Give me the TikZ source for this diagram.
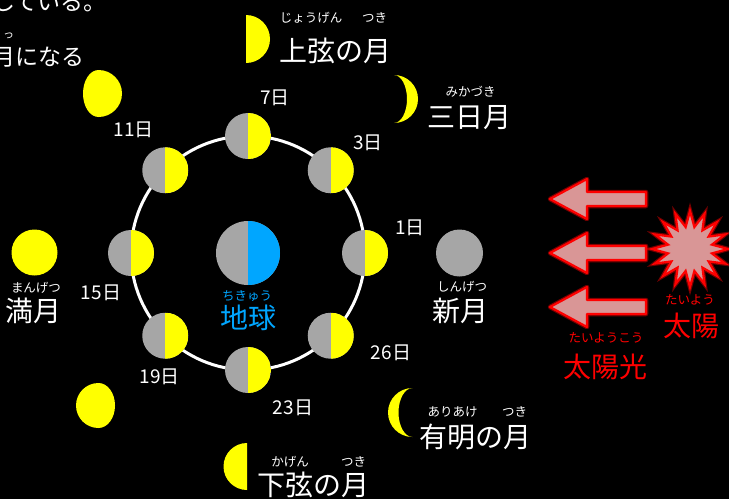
\documentclass[tikz,border=0pt]{standalone}
\usepackage{fontspec}
\usetikzlibrary{shapes.geometric}
\newfontfamily\jp{Noto Sans CJK JP}
\definecolor{moonyellow}{RGB}{255,255,0}
\definecolor{moongray}{RGB}{166,166,166}
\definecolor{earthblue}{RGB}{0,166,255}
\definecolor{sunpink}{RGB}{217,150,150}
\definecolor{sunred}{RGB}{255,0,0}
\tikzset{
  bigtext/.style={font=\jp\fontsize{28}{28}\selectfont, text=white, inner sep=0pt, anchor=base},
  rubytext/.style={font=\jp\fontsize{12.5}{12.5}\selectfont, text=white, inner sep=0pt, anchor=base},
  daytext/.style={font=\jp\fontsize{19}{19}\selectfont, text=white, inner sep=0pt, anchor=base},
  headtext/.style={font=\jp\fontsize{23}{23}\selectfont, text=white, inner sep=0pt, anchor=base east},
  halfmoon/.style={circle, minimum size=46pt, inner sep=0pt, outer sep=0pt, fill=moongray,
    path picture={\fill[moonyellow] (path picture bounding box.north) rectangle (path picture bounding box.south east);}},
  earthdisk/.style={circle, minimum size=64pt, inner sep=0pt, outer sep=0pt, fill=moongray,
    path picture={\fill[earthblue] (path picture bounding box.north) rectangle (path picture bounding box.south east);}},
  beamglow/.style={draw=sunred, draw opacity=0.45, line width=4.5pt, line join=round},
  beamedge/.style={draw=sunred, fill=sunpink, line width=2.2pt, line join=round},
  sunstar/.style={star, star points=16, star point ratio=1.7, minimum size=76pt, inner sep=0pt},
}
\begin{document}
\begin{tikzpicture}[x=1pt, y=-1pt]
% background and page frame
\fill[black] (0,0) rectangle (729,499);
\useasboundingbox (0,0) rectangle (729,499);

% heading lines
\node[headtext] (head1) at (107,10) {している。};
\node[headtext] (head2) at (85,65) {月になる};
\node[rubytext, font=\jp\fontsize{11}{11}\selectfont] (head2r) at (8.5,38) {っ};

% orbit of the moon around the earth
\node[circle, draw=white, line width=3pt, minimum size=234pt, inner sep=0pt, outer sep=0pt] (orbit) at (248,253) {};

% earth
\node[earthdisk] (earth) at (orbit.center) {};
\node[rubytext, text=earthblue] (earthr) at (247,300.5) {ちきゅう};
\node[bigtext, text=earthblue] (earthl) at (248.5,328) {地球};

% moon on the orbit, lit from the right
\node[halfmoon] (d1)  at (orbit.0)   {};
\node[halfmoon] (d3)  at (orbit.45)  {};
\node[halfmoon] (d7)  at (orbit.90)  {};
\node[halfmoon] (d11) at (orbit.135) {};
\node[halfmoon] (d15) at (orbit.180) {};
\node[halfmoon] (d19) at (orbit.225) {};
\node[halfmoon] (d23) at (orbit.270) {};
\node[halfmoon] (d26) at (orbit.315) {};

% day labels
\node[daytext] (t1)  at (410,234.5) {1日};
\node[daytext] (t3)  at (368,149.5) {3日};
\node[daytext] (t7)  at (275,104.5) {7日};
\node[daytext] (t11) at (133.5,136.5) {11日};
\node[daytext] (t15) at (101,299.5) {15日};
\node[daytext] (t19) at (159.5,383.5) {19日};
\node[daytext] (t23) at (293,414.5) {23日};
\node[daytext] (t26) at (391,359.5) {26日};

% new moon
\fill[moongray] (459.5,253) circle[radius=23.5];
\node[rubytext] (newr) at (462,291.5) {しんげつ};
\node[bigtext] (newl) at (460,321) {新月};

% crescent (3 days)
\fill[moonyellow] (394,75) arc[start angle=-90, end angle=90, radius=24]
  arc[start angle=90, end angle=-90, x radius=13, y radius=24] -- cycle;
\node[rubytext] (cresr) at (470.5,96.5) {みかづき};
\node[bigtext] (cresl) at (469,127) {三日月};

% first quarter
\fill[moonyellow] (246,15) arc[start angle=-90, end angle=90, radius=24] -- cycle;
\node[rubytext] (fqr1) at (311,22) {じょうげん};
\node[rubytext] (fqr2) at (374.5,22) {つき};
\node[bigtext] (fql) at (335,61) {上弦の月};

% waxing gibbous
\fill[moonyellow] (98.5,70) arc[start angle=-90, end angle=90, radius=23.5]
  arc[start angle=90, end angle=270, x radius=15.5, y radius=23.5] -- cycle;

% full moon
\fill[moonyellow] (34.5,252.5) circle[radius=23];
\node[rubytext] (fullr) at (36,292.5) {まんげつ};
\node[bigtext] (fulll) at (33.5,321) {満月};

% waning gibbous
\fill[moonyellow] (98.5,383) arc[start angle=-90, end angle=-270, radius=22.5]
  arc[start angle=90, end angle=-90, x radius=16.5, y radius=22.5] -- cycle;

% last quarter
\fill[moonyellow] (247,443) arc[start angle=-90, end angle=-270, radius=23.5] -- cycle;
\node[rubytext] (lqr1) at (290,466.5) {かげん};
\node[rubytext] (lqr2) at (353.5,466.5) {つき};
\node[bigtext] (lql) at (313.5,495.5) {下弦の月};

% waning crescent
\fill[moonyellow] (412.5,388) arc[start angle=-90, end angle=-270, radius=24.5]
  arc[start angle=90, end angle=270, x radius=14, y radius=24.5] -- cycle;
\node[rubytext] (wcr1) at (452.5,416.5) {ありあけ};
\node[rubytext] (wcr2) at (514.5,416.5) {つき};
\node[bigtext] (wcl) at (475,447) {有明の月};

% sunlight arrows
\foreach \yy in {199,253,307} {
  \path[beamglow] (550,\yy) -- (587,{\yy-20}) -- (587,{\yy-7}) -- (646,{\yy-7})
    -- (646,{\yy+7}) -- (587,{\yy+7}) -- (587,{\yy+20}) -- cycle;
  \path[beamedge] (550,\yy) -- (587,{\yy-20}) -- (587,{\yy-7}) -- (646,{\yy-7})
    -- (646,{\yy+7}) -- (587,{\yy+7}) -- (587,{\yy+20}) -- cycle;
}
\node[rubytext, text=sunred] (beamr) at (606,342.5) {たいようこう};
\node[bigtext, text=sunred] (beaml) at (605,377) {太陽光};

% sun
\node[sunstar, draw=sunred, draw opacity=0.45, line width=4.5pt] (sunglow) at (690,249) {};
\node[sunstar, draw=sunred, fill=sunpink, line width=2.2pt] (sun) at (690,249) {};
\node[rubytext, text=sunred] (sunr) at (690,304.5) {たいよう};
\node[bigtext, text=sunred] (sunl) at (691,336) {太陽};
\end{tikzpicture}
\end{document}
